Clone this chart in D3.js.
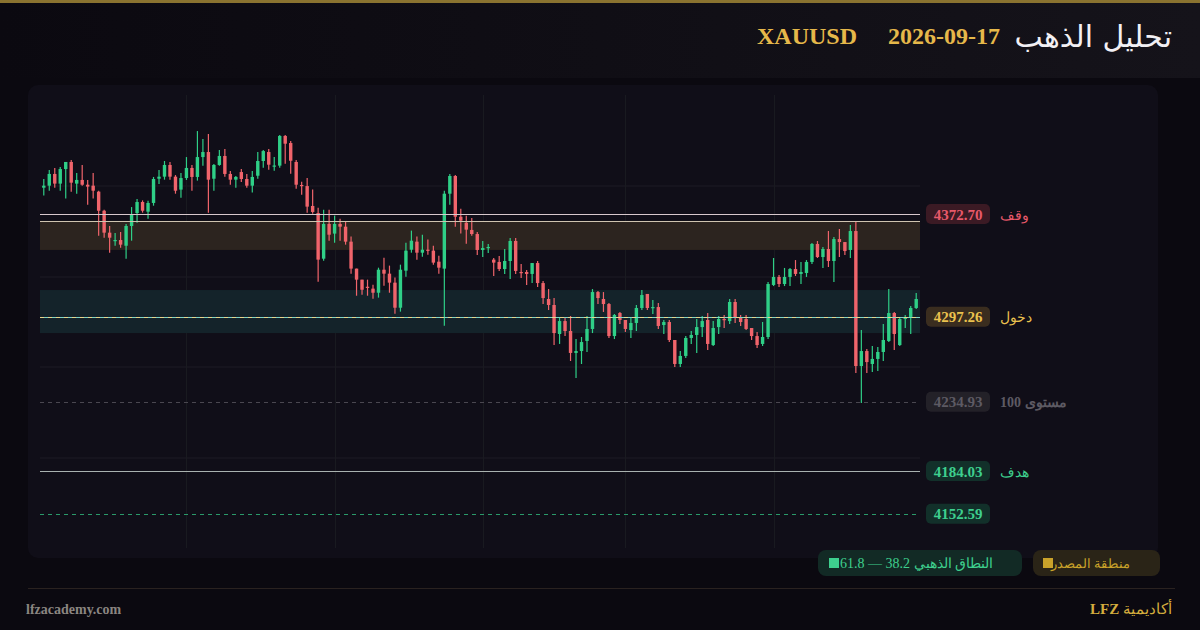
<!DOCTYPE html>
<html><head><meta charset="utf-8">
<script src="https://cdn.jsdelivr.net/npm/d3@7"></script>
<style>body{margin:0;background:#0b0910;}svg{display:block}</style>
</head><body>
<svg id="c" width="1200" height="630"></svg>
<script>
const opens=[4392.0,4393.5,4402.1,4395.0,4405.7,4410.9,4395.0,4397.7,4394.2,4393.5,4389.1,4375.1,4359.0,4353.1,4353.6,4349.4,4363.9,4373.4,4381.5,4374.4,4380.8,4398.6,4400.1,4408.7,4400.1,4390.6,4399.1,4406.5,4399.9,4414.5,4418.2,4398.6,4408.7,4415.3,4402.1,4397.9,4403.5,4398.4,4393.5,4400.8,4411.6,4418.2,4407.9,4408.2,4430.0,4424.8,4410.9,4394.0,4393.2,4378.6,4373.4,4339.9,4365.4,4358.3,4365.4,4363.4,4352.4,4332.6,4324.5,4319.3,4317.9,4314.9,4331.8,4328.9,4322.3,4303.9,4331.1,4346.5,4352.4,4344.3,4346.5,4345.8,4337.7,4332.6,4387.6,4400.6,4370.7,4366.3,4361.0,4358.0,4346.3,4348.0,4339.2,4337.5,4332.3,4338.2,4352.9,4330.1,4330.1,4328.7,4336.7,4322.0,4310.3,4305.9,4284.6,4294.1,4286.8,4270.7,4272.1,4279.5,4288.3,4315.4,4310.3,4306.6,4283.1,4300.0,4294.9,4287.5,4292.7,4303.7,4314.0,4303.7,4304.4,4291.2,4293.4,4280.2,4262.6,4268.5,4281.7,4283.9,4289.7,4294.9,4276.5,4289.7,4295.6,4294.1,4308.1,4296.4,4295.6,4289.0,4283.1,4277.3,4282.4,4320.6,4326.5,4321.3,4326.5,4332.3,4328.7,4329.4,4337.5,4350.7,4341.1,4347.0,4338.2,4354.3,4352.1,4346.3,4360.2,4261.1,4272.1,4262.6,4266.3,4271.4,4279.5,4300.0,4276.5,4295.6,4297.1,4303.7];
const closes=[4393.5,4402.1,4395.0,4405.7,4410.9,4395.7,4397.7,4394.2,4392.8,4389.8,4375.1,4359.0,4355.3,4353.6,4350.2,4363.9,4372.7,4381.5,4375.1,4380.8,4398.4,4400.1,4408.7,4400.1,4389.8,4399.1,4406.5,4399.9,4414.5,4418.2,4397.9,4408.7,4415.3,4402.1,4397.9,4399.9,4398.4,4393.5,4399.9,4411.6,4418.9,4408.9,4408.3,4430.0,4424.3,4411.8,4394.2,4393.5,4378.1,4374.2,4339.2,4365.4,4357.5,4365.4,4363.4,4352.4,4332.6,4324.5,4317.1,4318.6,4314.9,4331.8,4328.9,4322.3,4303.9,4331.8,4345.8,4353.1,4344.3,4346.5,4345.8,4337.0,4333.3,4387.6,4400.6,4370.7,4367.8,4361.2,4358.0,4346.3,4347.7,4348.5,4337.0,4332.3,4338.2,4352.9,4330.9,4329.6,4328.7,4336.7,4322.0,4311.0,4305.9,4285.3,4294.1,4286.8,4270.7,4272.1,4278.7,4288.3,4315.4,4311.0,4306.6,4283.1,4298.6,4294.9,4288.3,4292.7,4303.7,4313.2,4303.7,4304.4,4290.5,4293.4,4280.2,4262.6,4268.5,4281.7,4283.9,4289.7,4294.1,4277.3,4289.0,4295.6,4295.2,4308.1,4296.4,4293.4,4288.3,4283.1,4276.5,4282.4,4321.3,4326.5,4321.3,4326.5,4332.3,4328.7,4330.1,4337.5,4350.7,4341.1,4347.0,4338.2,4354.3,4352.1,4345.5,4360.2,4261.1,4272.1,4264.0,4266.3,4271.4,4280.2,4300.0,4284.6,4295.6,4297.1,4303.7,4310.3];
const highs=[4398.4,4405.0,4406.5,4407.2,4410.9,4412.3,4402.8,4408.7,4397.7,4402.8,4389.8,4375.9,4363.9,4358.7,4359.5,4365.4,4377.8,4383.7,4382.7,4382.5,4399.9,4405.0,4411.6,4410.9,4401.3,4402.8,4414.5,4408.7,4433.6,4427.8,4431.4,4409.4,4419.7,4420.4,4404.3,4400.6,4405.7,4402.1,4404.3,4418.2,4419.7,4420.4,4414.5,4430.7,4430.7,4426.3,4412.3,4396.4,4399.1,4390.6,4377.3,4375.9,4375.9,4371.5,4369.3,4367.1,4356.1,4332.6,4324.5,4324.5,4320.8,4333.3,4340.6,4334.8,4326.0,4335.5,4351.6,4360.5,4356.1,4357.5,4353.9,4349.4,4342.1,4389.8,4402.1,4401.3,4376.6,4371.5,4369.8,4359.5,4352.9,4350.7,4340.4,4341.9,4347.0,4355.1,4355.1,4336.0,4331.6,4336.7,4338.2,4323.5,4317.6,4311.0,4296.4,4296.4,4297.8,4280.9,4282.4,4297.8,4317.6,4316.2,4315.4,4307.4,4299.3,4300.8,4294.9,4296.4,4305.9,4316.9,4314.0,4309.6,4307.4,4294.9,4294.9,4280.2,4272.1,4283.1,4286.8,4295.6,4297.8,4300.0,4294.1,4297.8,4298.6,4310.3,4310.3,4298.6,4298.6,4289.0,4286.1,4293.4,4322.8,4340.4,4327.9,4333.1,4333.1,4338.9,4337.5,4338.9,4351.4,4352.9,4348.5,4360.2,4355.8,4361.7,4352.1,4364.6,4367.6,4287.5,4273.6,4275.8,4275.1,4291.9,4317.6,4300.8,4296.4,4298.6,4305.2,4314.7];
const lows=[4386.2,4389.8,4392.0,4389.8,4384.0,4389.1,4387.6,4393.5,4379.5,4384.0,4356.8,4355.3,4344.3,4349.4,4348.0,4339.9,4353.1,4366.3,4373.7,4369.3,4378.8,4394.7,4397.9,4397.9,4387.6,4384.7,4397.7,4389.8,4397.2,4408.2,4373.7,4389.8,4408.2,4400.1,4394.2,4392.0,4396.2,4392.0,4388.4,4398.6,4406.7,4405.2,4404.5,4406.7,4409.6,4402.3,4391.3,4386.9,4373.7,4372.9,4323.0,4338.4,4353.1,4351.6,4353.1,4350.2,4328.9,4312.7,4313.5,4312.7,4310.5,4311.3,4320.1,4314.9,4299.5,4301.0,4326.7,4344.3,4339.2,4341.4,4342.8,4335.5,4328.9,4290.7,4379.5,4363.4,4358.3,4350.9,4356.8,4342.6,4341.1,4344.1,4327.2,4330.9,4328.7,4325.0,4328.7,4325.7,4320.6,4322.0,4319.1,4306.6,4302.2,4276.5,4277.3,4283.1,4264.8,4252.3,4262.6,4271.4,4285.3,4306.6,4300.8,4281.7,4280.9,4291.9,4286.1,4281.7,4286.8,4302.2,4302.2,4299.3,4288.3,4284.6,4278.7,4260.4,4260.4,4267.0,4277.3,4270.7,4282.4,4272.9,4275.8,4284.6,4289.0,4291.9,4292.7,4290.5,4287.5,4280.2,4274.3,4275.8,4280.9,4319.8,4319.1,4319.8,4319.8,4327.2,4321.3,4326.5,4336.0,4340.4,4333.1,4333.8,4322.8,4341.1,4342.6,4340.4,4256.0,4234.0,4256.0,4256.7,4257.4,4264.8,4278.7,4272.9,4275.8,4289.0,4284.6,4303.0];

const levelStop=4372.70, levelEntry=4297.26, level100=4234.93, levelTarget=4184.03, levelExt=4152.59;
const sourceZone=[4346.3,4367.6];
const goldenZone=[4285.3,4316.9];
const levelLabels=["وقف","دخول","مستوى 100","هدف",""];
const levelValues=[levelStop,levelEntry,level100,levelTarget,levelExt];
const legendLabels=["منطقة المصدر","النطاق الذهبي 38.2 — 61.8"];

const svg=d3.select("#c");
const serif="'Liberation Serif','DejaVu Serif',serif";
svg.append("rect").attr("width",1200).attr("height",630).attr("fill","#0b0910");
const hg=svg.append("defs").append("linearGradient").attr("id","hg");
hg.append("stop").attr("offset","0").attr("stop-color","#0b0910");
hg.append("stop").attr("offset","1").attr("stop-color","#15131a");
svg.append("rect").attr("y",3).attr("width",1200).attr("height",75).attr("fill","url(#hg)");
svg.append("rect").attr("width",1200).attr("height",3).attr("fill","#8a7330");

svg.append("text").attr("x",1172).attr("y",47).attr("text-anchor","end").attr("fill","#f2f0f4")
  .attr("font-family","'DejaVu Sans',sans-serif").attr("font-size",30).text("تحليل الذهب");
svg.append("text").attr("x",1000).attr("y",44).attr("text-anchor","end").attr("fill","#e6b84a")
  .attr("font-family",serif).attr("font-weight","bold").attr("font-size",24).text("2026-09-17");
svg.append("text").attr("x",857).attr("y",44).attr("text-anchor","end").attr("fill","#e6b84a")
  .attr("font-family",serif).attr("font-weight","bold").attr("font-size",24).text("XAUUSD");

svg.append("rect").attr("x",28).attr("y",85).attr("width",1130).attr("height",473).attr("rx",10).attr("fill","#100e18");

const y=d3.scaleLinear().domain([levelTarget,levelStop]).range([471,214]);
const x=d3.scaleBand().domain(d3.range(opens.length)).range([40,920]).padding(0.38);
const g=svg.append("g");

[186,277,367,458].forEach(v=>g.append("line").attr("x1",40).attr("x2",920).attr("y1",v).attr("y2",v).attr("stroke","#1c1a24"));
const tickIdx=[26,53,80,106,133];
tickIdx.forEach(i=>{const xx=Math.round(x(i)+x.bandwidth()/2)+0.5;g.append("line").attr("x1",xx).attr("x2",xx).attr("y1",95).attr("y2",548).attr("stroke","#191a20");});

g.append("rect").attr("x",40).attr("width",880).attr("y",y(sourceZone[1])).attr("height",y(sourceZone[0])-y(sourceZone[1])).attr("fill","#2c241f");
g.append("rect").attr("x",40).attr("width",880).attr("y",y(goldenZone[1])).attr("height",y(goldenZone[0])-y(goldenZone[1])).attr("fill","#14232a");

const data=opens.map((o,i)=>({i,o,c:closes[i],h:highs[i],l:lows[i]}));
const cg=g.selectAll("g.cd").data(data).join("g");
const col=d=>d.c>=d.o?"#2fcf87":"#f0646b";
cg.append("line").attr("x1",d=>x(d.i)+x.bandwidth()/2).attr("x2",d=>x(d.i)+x.bandwidth()/2)
  .attr("y1",d=>y(d.h)).attr("y2",d=>y(d.l)).attr("stroke",col).attr("stroke-width",1.2);
cg.append("rect").attr("x",d=>x(d.i)).attr("width",x.bandwidth())
  .attr("y",d=>y(Math.max(d.o,d.c))).attr("height",d=>Math.max(1.2,Math.abs(y(d.o)-y(d.c)))).attr("fill",col);

const L=(v,stroke,dash,w)=>g.append("line").attr("x1",40).attr("x2",920).attr("y1",Math.round(y(v))+0.5).attr("y2",Math.round(y(v))+0.5)
  .attr("stroke",stroke).attr("stroke-width",w||1).attr("stroke-dasharray",dash||null);
L(levelStop,"#d8c8cc");
L(sourceZone[1],"#cfc4b0");
L(levelEntry,"#7fd6c8");
L(levelEntry,"#e8d48a","4 4");
L(level100,"#4a4750","4 4");
L(levelTarget,"#a9b2b0");
L(levelExt,"#2a9a6a","4 4");

const pill=[["#3b1a24","#e8596a"],["#3a2d1f","#ebc24e"],["#232128","#5d5a63"],["#12302a","#3ecf8e"],["#12302a","#3ecf8e"]];
levelValues.forEach((v,k)=>{
  const yy=y(v);
  svg.append("rect").attr("x",926).attr("y",yy-10).attr("width",64).attr("height",20).attr("rx",5).attr("fill",pill[k][0]);
  svg.append("text").attr("x",958).attr("y",yy+5.5).attr("text-anchor","middle").attr("fill",pill[k][1])
    .attr("font-family",serif).attr("font-weight","bold").attr("font-size",15).text(v.toFixed(2));
  if(levelLabels[k]) svg.append("text").attr("x",1000).attr("y",yy+5.5).attr("direction","rtl").attr("text-anchor","end")
    .attr("fill",pill[k][1]).attr("font-family",serif).attr("font-size",14).attr("font-weight",k==2?"bold":"normal").text(levelLabels[k]);
});

svg.append("rect").attr("x",1033).attr("y",550).attr("width",127).attr("height",26).attr("rx",8).attr("fill","#2a2417");
svg.append("rect").attr("x",1043).attr("y",558).attr("width",10).attr("height",10).attr("fill","#c9a22a");
svg.append("text").attr("x",1130).attr("y",568).attr("direction","rtl").attr("text-anchor","start").attr("fill","#c9a22a").attr("font-family",serif).attr("font-size",12.5).text(legendLabels[0]);
svg.append("rect").attr("x",818).attr("y",550).attr("width",204).attr("height",26).attr("rx",8).attr("fill","#122a25");
svg.append("rect").attr("x",829).attr("y",558).attr("width",10).attr("height",10).attr("fill","#3ecf8e");
svg.append("text").attr("x",993).attr("y",568).attr("direction","rtl").attr("text-anchor","start").attr("fill","#3ecf8e").attr("font-family",serif).attr("font-size",14).text(legendLabels[1]);

svg.append("line").attr("x1",28).attr("x2",1175).attr("y1",588.5).attr("y2",588.5).attr("stroke","#2a2220");
svg.append("text").attr("x",26).attr("y",614).attr("fill","#8a8580").attr("font-family",serif).attr("font-weight","bold").attr("font-size",14).text("lfzacademy.com");
const ft=svg.append("text").attr("x",1172).attr("y",614).attr("direction","rtl").attr("text-anchor","start").attr("fill","#d4ad3e").attr("font-family",serif).attr("font-size",15);
ft.append("tspan").text("أكاديمية ");
ft.append("tspan").attr("font-weight","bold").text("LFZ");
</script>
</body></html>
